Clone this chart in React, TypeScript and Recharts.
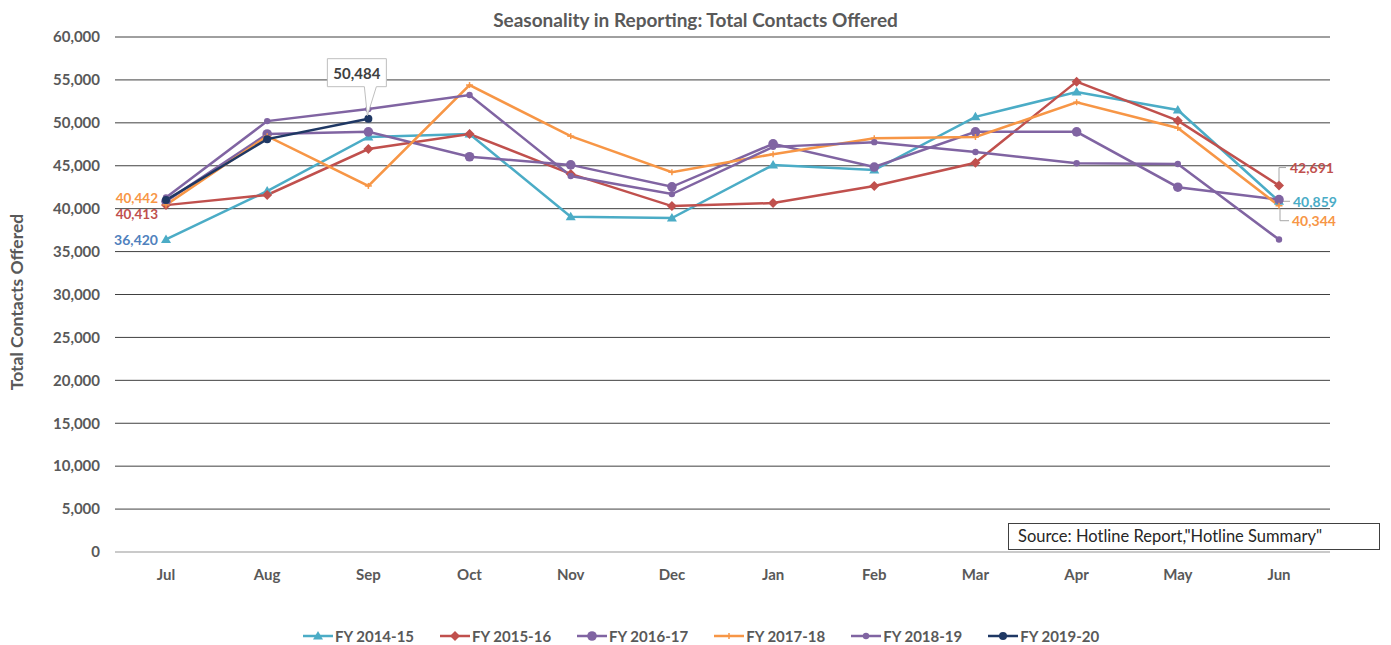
import React from "react"
import { LineChart, Line, XAxis, YAxis, CartesianGrid } from "recharts"

const months = ["Jul", "Aug", "Sep", "Oct", "Nov", "Dec", "Jan", "Feb", "Mar", "Apr", "May", "Jun"]

const fy1415 = [36420, 42050, 48350, 48700, 39050, 38900, 45100, 44500, 50700, 53600, 51500, 40859]
const fy1516 = [40413, 41600, 46950, 48700, 44050, 40300, 40650, 42650, 45350, 54800, 50250, 42691]
const fy1617 = [40850, 48700, 48950, 46050, 45100, 42550, 47550, 44850, 48950, 48950, 42500, 41050]
const fy1718 = [40442, 48450, 42650, 54400, 48450, 44250, 46350, 48200, 48350, 52400, 49400, 40344]
const fy1819 = [41300, 50200, 51600, 53250, 43800, 41700, 47200, 47750, 46600, 45300, 45200, 36400]
const fy1920 = [41000, 48100, 50484]

const yTicks = [0, 5000, 10000, 15000, 20000, 25000, 30000, 35000, 40000, 45000, 50000, 55000, 60000]

const data = months.map((m, i) => ({
  month: m,
  fy1415: fy1415[i],
  fy1516: fy1516[i],
  fy1617: fy1617[i],
  fy1718: fy1718[i],
  fy1819: fy1819[i],
  fy1920: i < fy1920.length ? fy1920[i] : null,
}))

const FONT = "Lato, 'Open Sans', sans-serif"
const GREY = "#595959"

type Marker = "triangle" | "diamond" | "circle" | "plus" | "small" | "navy"

const series: { key: string; name: string; color: string; marker: Marker }[] = [
  { key: "fy1415", name: "FY 2014-15", color: "#4BACC6", marker: "triangle" },
  { key: "fy1516", name: "FY 2015-16", color: "#C0504D", marker: "diamond" },
  { key: "fy1617", name: "FY 2016-17", color: "#8064A2", marker: "circle" },
  { key: "fy1718", name: "FY 2017-18", color: "#F79646", marker: "plus" },
  { key: "fy1819", name: "FY 2018-19", color: "#8064A2", marker: "small" },
  { key: "fy1920", name: "FY 2019-20", color: "#1F3864", marker: "navy" },
]

const fmt = (v: number) => v.toLocaleString("en-US")

function markerShape(m: Marker, cx: number, cy: number, color: string) {
  switch (m) {
    case "triangle":
      return <path d={`M${cx},${cy - 5} L${cx + 5},${cy + 3.5} L${cx - 5},${cy + 3.5} Z`} fill={color} />
    case "diamond":
      return <path d={`M${cx},${cy - 5} L${cx + 5},${cy} L${cx},${cy + 5} L${cx - 5},${cy} Z`} fill={color} />
    case "circle":
      return <circle cx={cx} cy={cy} r={4.8} fill={color} />
    case "plus":
      return (
        <g stroke={color} strokeWidth={1.5}>
          <line x1={cx - 3.5} y1={cy} x2={cx + 3.5} y2={cy} />
          <line x1={cx} y1={cy - 3} x2={cx} y2={cy + 3} />
        </g>
      )
    case "small":
      return <circle cx={cx} cy={cy} r={3.2} fill={color} />
    case "navy":
      return <circle cx={cx} cy={cy} r={4} fill={color} />
  }
}

const labelStyle = { fontFamily: FONT, fontSize: 14, fontWeight: 700 }
const leaderColor = "#A6A6A6"

// data label annotations, drawn next to the marker
function annotation(key: string, index: number, cx: number, cy: number, value: number) {
  const t = fmt(value)
  if (index === 0 && key === "fy1415")
    return <text x={cx - 8} y={cy} textAnchor="end" dominantBaseline="central" fill="#4F81BD" style={labelStyle}>{t}</text>
  if (index === 0 && key === "fy1718")
    return <text x={cx - 8} y={cy - 7} textAnchor="end" dominantBaseline="central" fill="#F79646" style={{ ...labelStyle, fontSize: 13.5 }}>{t}</text>
  if (index === 0 && key === "fy1516")
    return <text x={cx - 8} y={cy + 9} textAnchor="end" dominantBaseline="central" fill="#C0504D" style={{ ...labelStyle, fontSize: 13.5 }}>{t}</text>
  if (index === 11 && key === "fy1516")
    return (
      <g>
        <path d={`M${cx},${cy - 4} V${cy - 18} H${cx + 7}`} stroke={leaderColor} fill="none" />
        <text x={cx + 11} y={cy - 18} dominantBaseline="central" fill="#C0504D" style={labelStyle}>{t}</text>
      </g>
    )
  if (index === 11 && key === "fy1415")
    return (
      <g>
        <path d={`M${cx + 4},${cy} H${cx + 11}`} stroke={leaderColor} fill="none" />
        <text x={cx + 14} y={cy} dominantBaseline="central" fill="#4BACC6" style={labelStyle}>{t}</text>
      </g>
    )
  if (index === 11 && key === "fy1718")
    return (
      <g>
        <path d={`M${cx + 1},${cy + 3} V${cy + 15} H${cx + 10}`} stroke={leaderColor} fill="none" />
        <text x={cx + 13} y={cy + 15} dominantBaseline="central" fill="#F79646" style={labelStyle}>{t}</text>
      </g>
    )
  if (index === 2 && key === "fy1920") {
    const l = cx - 41, r = cx + 18, top = cy - 60, bot = cy - 32
    return (
      <g>
        <path
          d={`M${l},${top} H${r} V${bot} H${cx + 8} L${cx - 1},${cy - 3} L${cx - 4},${bot} H${l} Z`}
          fill="#fff"
          stroke="#BFBFBF"
        />
        <text x={(l + r) / 2} y={(top + bot) / 2} textAnchor="middle" dominantBaseline="central" fill="#404040" style={{ ...labelStyle, fontSize: 15 }}>{t}</text>
      </g>
    )
  }
  return null
}

function LegendIcon({ color, marker }: { color: string; marker: Marker }) {
  return (
    <svg width={30} height={12}>
      <line x1={0} y1={6} x2={30} y2={6} stroke={color} strokeWidth={2.5} />
      {markerShape(marker, 15, 6, color)}
    </svg>
  )
}

export default function App() {
  return (
    <div style={{ position: "absolute", left: 0, top: 0, width: 1391, height: 645, background: "#fff", fontFamily: FONT }}>
      <div style={{ position: "absolute", left: 0, width: 1391, top: 8, textAlign: "center", fontSize: 19, fontWeight: 700, color: GREY, lineHeight: "24px" }}>
        Seasonality in Reporting: Total Contacts Offered
      </div>
      <div
        style={{
          position: "absolute",
          left: 16,
          top: 302,
          transform: "translate(-50%, -50%) rotate(-90deg)",
          whiteSpace: "nowrap",
          fontSize: 17.5,
          fontWeight: 700,
          color: GREY,
        }}
      >
        Total Contacts Offered
      </div>
      <LineChart width={1391} height={645} data={data} margin={{ top: 37, right: 61, bottom: 63, left: 15 }}>
        <CartesianGrid vertical={false} stroke="#404040" strokeWidth={1} />
        <XAxis
          dataKey="month"
          height={30}
          padding={{ left: 51, right: 51 }}
          axisLine={{ stroke: "#D9D9D9", strokeWidth: 1.5 }}
          tickLine={false}
          tickMargin={11}
          tick={{ fill: GREY, fontSize: 15, fontWeight: 700, fontFamily: FONT }}
        />
        <YAxis
          width={100}
          domain={[0, 60000]}
          ticks={yTicks}
          tickFormatter={fmt}
          axisLine={false}
          tickLine={false}
          tickMargin={9}
          tick={{ fill: GREY, fontSize: 15, fontWeight: 700, fontFamily: FONT }}
        />
        {series.map((s) => (
          <Line
            key={s.key}
            dataKey={s.key}
            name={s.name}
            stroke={s.color}
            strokeWidth={2.5}
            isAnimationActive={false}
            activeDot={false}
            dot={(p: any) => {
              const { cx, cy, index, payload } = p
              if (cx == null || cy == null || payload[s.key] == null) return <g key={`${s.key}-${index}`} />
              return (
                <g key={`${s.key}-${index}`}>
                  {markerShape(s.marker, cx, cy, s.color)}
                  {annotation(s.key, index, cx, cy, payload[s.key])}
                </g>
              )
            }}
          />
        ))}
      </LineChart>
      <div
        style={{
          position: "absolute",
          left: 1008,
          top: 523,
          width: 361,
          height: 25,
          border: "1px solid #404040",
          background: "#fff",
          fontSize: 16.5,
          color: "#262626",
          lineHeight: "25px",
          paddingLeft: 9,
          boxSizing: "content-box",
          whiteSpace: "nowrap",
        }}
      >
        Source: Hotline Report,"Hotline Summary"
      </div>
      <div style={{ position: "absolute", left: 303, top: 626, display: "flex", gap: 26 }}>
        {series.map((s) => (
          <div key={s.key} style={{ display: "flex", alignItems: "center", gap: 2, fontSize: 15, fontWeight: 700, color: GREY, lineHeight: "20px" }}>
            <LegendIcon color={s.color} marker={s.marker} />
            <span>{s.name}</span>
          </div>
        ))}
      </div>
    </div>
  )
}
